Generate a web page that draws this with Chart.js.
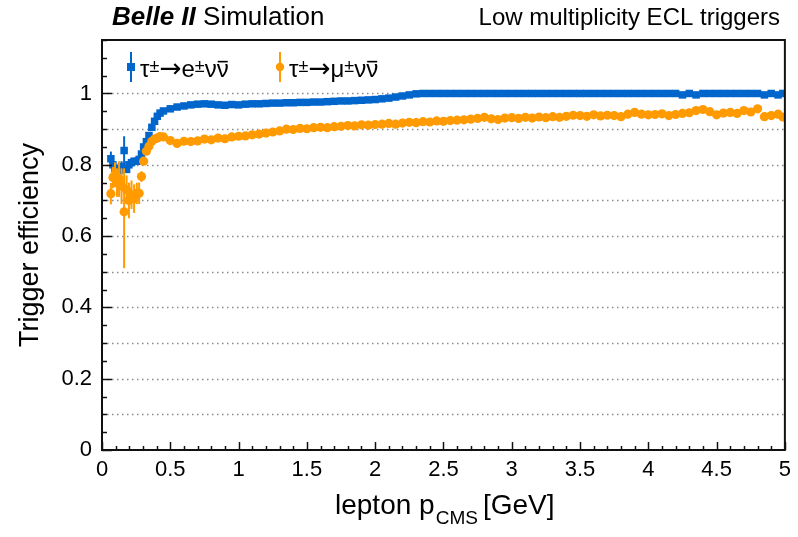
<!DOCTYPE html>
<html>
<head>
<meta charset="utf-8">
<script src="https://cdn.jsdelivr.net/npm/chart.js@4"></script>
<style>
  html, body { margin: 0; padding: 0; background: #fff; }
</style>
</head>
<body>
<canvas id="myChart" width="798" height="537"></canvas>
<script>
// lepton momentum (GeV), fine bins at low momentum
const momLow = [0.065, 0.08, 0.095, 0.11, 0.125, 0.143, 0.162, 0.18, 0.197, 0.216, 0.235, 0.255, 0.272, 0.289, 0.305, 0.325, 0.344, 0.365, 0.385, 0.405, 0.425];
// coarser bins above 0.45 GeV
const momHigh = [0.45, 0.5, 0.55, 0.6, 0.65, 0.7, 0.75, 0.8, 0.85, 0.9, 0.95,
  1.0, 1.05, 1.1, 1.15, 1.2, 1.25, 1.3, 1.35, 1.4, 1.45, 1.5, 1.55, 1.6, 1.65, 1.7, 1.75, 1.8, 1.85, 1.9, 1.95,
  2.0, 2.05, 2.1, 2.15, 2.2, 2.25, 2.3, 2.35, 2.4, 2.45, 2.5, 2.55, 2.6, 2.65, 2.7, 2.75, 2.8, 2.85, 2.9, 2.95,
  3.0, 3.05, 3.1, 3.15, 3.2, 3.25, 3.3, 3.35, 3.4, 3.45, 3.5, 3.55, 3.6, 3.65, 3.7, 3.75, 3.8, 3.85, 3.9, 3.95,
  4.0, 4.05, 4.1, 4.15, 4.2, 4.25, 4.3, 4.35, 4.4, 4.45, 4.5, 4.55, 4.6, 4.65, 4.7, 4.75, 4.8, 4.85, 4.9, 4.95, 4.985];

// tau -> e nu nubar
const effELow = [0.817, 0.800, 0.790, 0.786, 0.784, 0.795, 0.840, 0.787, 0.800, 0.806, 0.810, 0.810, 0.815, 0.830, 0.850, 0.865, 0.882, 0.905, 0.922, 0.936, 0.945];
const errELow = [0.020, 0.015, 0.012, 0.012, 0.012, 0.015, 0.040, 0.010, 0.010, 0.008, 0.008, 0.007, 0.007, 0.006, 0.006, 0.005, 0.005, 0.004, 0.004, 0.004, 0.003];
const effEHigh = [0.951, 0.957, 0.962, 0.965, 0.968, 0.970, 0.971, 0.970, 0.968, 0.967, 0.969,
  0.968, 0.970, 0.971, 0.971, 0.972, 0.973, 0.973, 0.974, 0.974, 0.975, 0.975, 0.976, 0.976, 0.977, 0.978, 0.979, 0.979, 0.980, 0.981, 0.982,
  0.983, 0.985, 0.987, 0.990, 0.993, 0.996, 0.999, 1.0, 1.0, 1.0, 1.0, 1.0, 1.0, 1.0, 1.0, 1.0, 1.0, 1.0, 1.0, 1.0,
  1.0, 1.0, 1.0, 1.0, 1.0, 1.0, 1.0, 1.0, 1.0, 1.0, 1.0, 1.0, 1.0, 1.0, 1.0, 1.0, 1.0, 1.0, 1.0, 1.0,
  1.0, 1.0, 1.0, 1.0, 1.0, 0.996, 1.0, 0.996, 1.0, 1.0, 1.0, 1.0, 1.0, 1.0, 1.0, 1.0, 1.0, 0.996, 1.0, 0.996, 1.0];

// tau -> mu nu nubar
const effMuLow = [0.719, 0.764, 0.772, 0.750, 0.760, 0.740, 0.668, 0.730, 0.700, 0.716, 0.705, 0.720, 0.720, 0.767, 0.810, 0.838, 0.852, 0.866, 0.872, 0.875, 0.879];
const errMuDown = [0.030, 0.030, 0.035, 0.040, 0.050, 0.050, 0.158, 0.040, 0.050, 0.040, 0.040, 0.030, 0.030, 0.015, 0.010, 0.008, 0.007, 0.006, 0.006, 0.005, 0.005];
const errMuUp = [0.030, 0.030, 0.035, 0.040, 0.050, 0.050, 0.122, 0.040, 0.050, 0.040, 0.040, 0.030, 0.030, 0.015, 0.010, 0.008, 0.007, 0.006, 0.006, 0.005, 0.005];
const effMuHigh = [0.878, 0.868, 0.860, 0.866, 0.865, 0.867, 0.872, 0.870, 0.875, 0.873, 0.878,
  0.880, 0.881, 0.884, 0.886, 0.889, 0.892, 0.895, 0.900, 0.899, 0.902, 0.901, 0.904, 0.905, 0.904, 0.907, 0.908, 0.910, 0.909, 0.912, 0.911,
  0.913, 0.914, 0.916, 0.914, 0.917, 0.919, 0.918, 0.921, 0.920, 0.923, 0.922, 0.924, 0.925, 0.926, 0.928, 0.930, 0.933, 0.929, 0.927, 0.931,
  0.932, 0.930, 0.933, 0.931, 0.934, 0.932, 0.935, 0.933, 0.936, 0.939, 0.938, 0.936, 0.940, 0.937, 0.939, 0.938, 0.935, 0.942, 0.947, 0.942,
  0.940, 0.941, 0.943, 0.938, 0.941, 0.944, 0.946, 0.952, 0.955, 0.949, 0.940, 0.945, 0.947, 0.944, 0.952, 0.948, 0.957, 0.935, 0.938, 0.942, 0.934];

const xTicks = [0, 0.5, 1, 1.5, 2, 2.5, 3, 3.5, 4, 4.5, 5];
const yTicks = [0, 0.2, 0.4, 0.6, 0.8, 1];

const BLUE = '#0066cc';
const ORANGE = '#ff9a00';
const FONT = '"Liberation Sans", Arial, Helvetica, sans-serif';

function points(xs, ys) {
  return xs.map((x, i) => ({ x: x, y: ys[i] }));
}
const eData = points(momLow.concat(momHigh), effELow.concat(effEHigh));
const muData = points(momLow.concat(momHigh), effMuLow.concat(effMuHigh));
// error bars only matter in the low momentum bins
const eErr = momLow.map((x, i) => [effELow[i] - errELow[i], effELow[i] + errELow[i]]);
const muErr = momLow.map((x, i) => [effMuLow[i] - errMuDown[i], effMuLow[i] + errMuUp[i]]);

const errorBars = {
  id: 'errorBars',
  beforeDatasetDraw(chart, args) {
    const ctx = chart.ctx;
    const ys = chart.scales.y;
    const meta = args.meta;
    const errs = args.index === 0 ? eErr : muErr;
    ctx.save();
    ctx.strokeStyle = args.index === 0 ? BLUE : ORANGE;
    ctx.lineWidth = 2;
    errs.forEach((e, i) => {
      const p = meta.data[i];
      ctx.beginPath();
      ctx.moveTo(p.x, ys.getPixelForValue(e[0]));
      ctx.lineTo(p.x, ys.getPixelForValue(e[1]));
      ctx.stroke();
    });
    ctx.restore();
  }
};

function drawPieces(ctx, x, y, pieces, size) {
  pieces.forEach(pc => {
    const s = size * (pc.s || 1);
    ctx.font = (pc.f || '') + ' ' + s + 'px ' + (pc.fam || FONT);
    const w = ctx.measureText(pc.t).width;
    ctx.fillText(pc.t, x, y + (pc.dy || 0));
    if (pc.bar) {
      ctx.save();
      ctx.lineWidth = 1.6;
      ctx.beginPath();
      ctx.moveTo(x + 1, y - s * 0.64);
      ctx.lineTo(x + w - 1, y - s * 0.64);
      ctx.stroke();
      ctx.restore();
    }
    x += w;
  });
  return x;
}

const decor = {
  id: 'decor',
  beforeDatasetsDraw(chart) {
    const ctx = chart.ctx;
    const a = chart.chartArea;
    const ys = chart.scales.y;
    ctx.save();
    ctx.strokeStyle = '#8a8a8a';
    ctx.lineWidth = 1.3;
    ctx.setLineDash([1.5, 3.5]);
    for (let k = 1; k <= 10; k++) {
      const y = Math.round(ys.getPixelForValue(k / 10)) + 0.5;
      ctx.beginPath();
      ctx.moveTo(a.left, y);
      ctx.lineTo(a.right, y);
      ctx.stroke();
    }
    ctx.restore();
  },
  afterDraw(chart) {
    const ctx = chart.ctx;
    const a = chart.chartArea;
    const xs = chart.scales.x;
    const ys = chart.scales.y;
    ctx.save();
    ctx.strokeStyle = '#111';
    ctx.lineWidth = 1.5;
    // y ticks, inside the frame
    for (let k = 0; k <= 23; k++) {
      const v = k * 0.05;
      const y = Math.round(ys.getPixelForValue(v)) + 0.5;
      const len = (k % 4 === 0) ? 10 : 5;
      ctx.beginPath();
      ctx.moveTo(a.left, y);
      ctx.lineTo(a.left + len, y);
      ctx.stroke();
    }
    // x ticks
    for (let k = 0; k <= 50; k++) {
      const x = Math.round(xs.getPixelForValue(k * 0.1)) + 0.5;
      const len = (k % 5 === 0) ? 8 : 4;
      ctx.beginPath();
      ctx.moveTo(x, a.bottom);
      ctx.lineTo(x, a.bottom - len);
      ctx.stroke();
    }
    ctx.lineWidth = 2;
    ctx.strokeRect(a.left, a.top, a.right - a.left, a.bottom - a.top);

    ctx.fillStyle = '#000';
    ctx.textBaseline = 'alphabetic';
    // header
    ctx.textAlign = 'left';
    ctx.font = 'italic bold 26px ' + FONT;
    ctx.fillText('Belle II', 112, 25);
    const bw = ctx.measureText('Belle II ').width;
    ctx.font = '26px ' + FONT;
    ctx.fillText('Simulation', 112 + bw, 25);
    ctx.textAlign = 'right';
    ctx.font = '24px ' + FONT;
    ctx.fillText('Low multiplicity ECL triggers', 780, 25);

    // axis titles
    ctx.textAlign = 'left';
    let x = drawPieces(ctx, 335, 514, [{ t: 'lepton p' }], 28);
    x = drawPieces(ctx, x + 1, 524, [{ t: 'CMS', s: 0.68 }], 28);
    drawPieces(ctx, x + 5, 514, [{ t: '[GeV]' }], 28);

    ctx.save();
    ctx.translate(38, 245);
    ctx.rotate(-Math.PI / 2);
    ctx.textAlign = 'center';
    ctx.font = '27px ' + FONT;
    ctx.fillText('Trigger efficiency', 0, 0);
    ctx.restore();

    // legend
    const legend = [
      { x: 131, color: BLUE, shape: 'rect', lep: 'e' },
      { x: 280, color: ORANGE, shape: 'circle', lep: 'μ' }
    ];
    legend.forEach(l => {
      ctx.strokeStyle = l.color;
      ctx.fillStyle = l.color;
      ctx.lineWidth = 2;
      ctx.beginPath();
      ctx.moveTo(l.x, 52);
      ctx.lineTo(l.x, 82);
      ctx.stroke();
      if (l.shape === 'rect') {
        ctx.fillRect(l.x - 4, 63, 8, 8);
      } else {
        ctx.beginPath();
        ctx.arc(l.x, 67, 4.2, 0, Math.PI * 2);
        ctx.fill();
      }
      ctx.fillStyle = '#000';
      ctx.strokeStyle = '#000';
      ctx.textAlign = 'left';
      drawPieces(ctx, l.x + 9, 77, [
        { t: 'τ' }, { t: '±', s: 0.75, dy: -5 }, { t: '→', fam: '"DejaVu Sans", sans-serif', s: 1.1 }, { t: l.lep },
        { t: '±', s: 0.75, dy: -5 }, { t: 'ν' }, { t: 'ν', bar: true }
      ], 24);
    });
    ctx.restore();
  }
};

const ctx1 = document.getElementById('myChart').getContext('2d');
const myChart = new Chart(ctx1, {
  type: 'scatter',
  data: {
    datasets: [
      {
        label: 'τ→eνν',
        data: eData,
        pointStyle: 'rect',
        pointRadius: 5.3,
        backgroundColor: BLUE,
        borderColor: BLUE,
        borderWidth: 0,
        order: 1
      },
      {
        label: 'τ→μνν',
        data: muData,
        pointStyle: 'circle',
        pointRadius: 4.6,
        backgroundColor: ORANGE,
        borderColor: ORANGE,
        borderWidth: 0,
        order: 0
      }
    ]
  },
  options: {
    responsive: false,
    animation: false,
    devicePixelRatio: 1,
    layout: { padding: { top: 40, right: 9, left: 0, bottom: 0 } },
    plugins: {
      legend: { display: false },
      tooltip: { enabled: false }
    },
    scales: {
      x: {
        type: 'linear',
        min: 0,
        max: 5,
        grid: { display: false, drawTicks: false },
        border: { display: false },
        afterFit: s => { s.height = 87; },
        afterBuildTicks: s => { s.ticks = xTicks.map(v => ({ value: v })); },
        ticks: {
          padding: 7,
          maxRotation: 0,
          color: '#000',
          font: { family: FONT, size: 22 },
          callback: v => String(v)
        }
      },
      y: {
        type: 'linear',
        min: 0,
        max: 1.15,
        grid: { display: false, drawTicks: false },
        border: { display: false },
        afterFit: s => { s.width = 102; },
        afterBuildTicks: s => { s.ticks = yTicks.map(v => ({ value: v })); },
        ticks: {
          padding: 10,
          color: '#000',
          font: { family: FONT, size: 22 },
          callback: v => String(v)
        }
      }
    }
  },
  plugins: [errorBars, decor]
});
</script>
</body>
</html>
